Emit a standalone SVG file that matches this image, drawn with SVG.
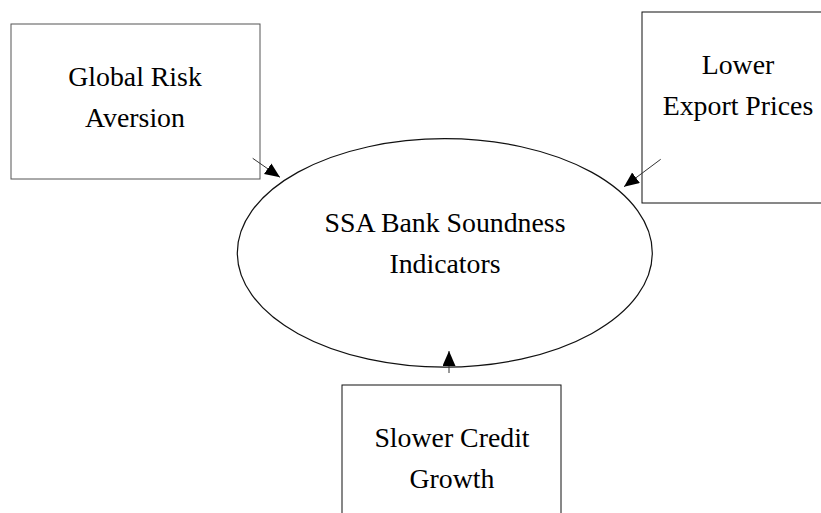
<svg xmlns="http://www.w3.org/2000/svg" width="821" height="513" viewBox="0 0 821 513">
<style>
.box{fill:#fff;stroke:#111;stroke-width:1}
.ell{fill:#fff;stroke:#111;stroke-width:1.2}
.lbl{font-family:"Liberation Serif","Times New Roman",serif;font-size:27.8px;fill:#000;text-anchor:middle}
.conn{stroke:#333;stroke-width:1;fill:none;marker-end:url(#ah)}
</style>
<defs>
<marker id="ah" markerUnits="userSpaceOnUse" markerWidth="16" markerHeight="14" refX="15" refY="6.5" orient="auto">
<path d="M0,0 L15,6.5 L0,13 Z" fill="#000"/>
</marker>
</defs>
<rect width="821" height="513" fill="#fff"/>
<g id="node-global">
<rect class="box" x="11" y="24" width="249" height="155" style="stroke:#555"/>
<text class="lbl" x="135" y="86">Global Risk</text>
<text class="lbl" x="135" y="127">Aversion</text>
</g>
<g id="node-export">
<rect class="box" x="642" y="12" width="200" height="191"/>
<text class="lbl" x="738" y="74">Lower</text>
<text class="lbl" x="738" y="115">Export Prices</text>
</g>
<g id="node-ssa">
<ellipse class="ell" cx="444.8" cy="252.9" rx="207.5" ry="114.2"/>
<text class="lbl" x="445" y="232">SSA Bank Soundness</text>
<text class="lbl" x="445" y="273">Indicators</text>
</g>
<g id="node-credit">
<rect class="box" x="342" y="385" width="219" height="140"/>
<text class="lbl" x="452" y="447">Slower Credit</text>
<text class="lbl" x="452" y="488">Growth</text>
</g>
<g id="connectors">
<line class="conn" x1="252.7" y1="158.3" x2="280" y2="177.3"/>
<line class="conn" x1="660.7" y1="159.3" x2="624" y2="186.7"/>
<line class="conn" x1="449" y1="373" x2="449" y2="351"/>
</g>
</svg>
